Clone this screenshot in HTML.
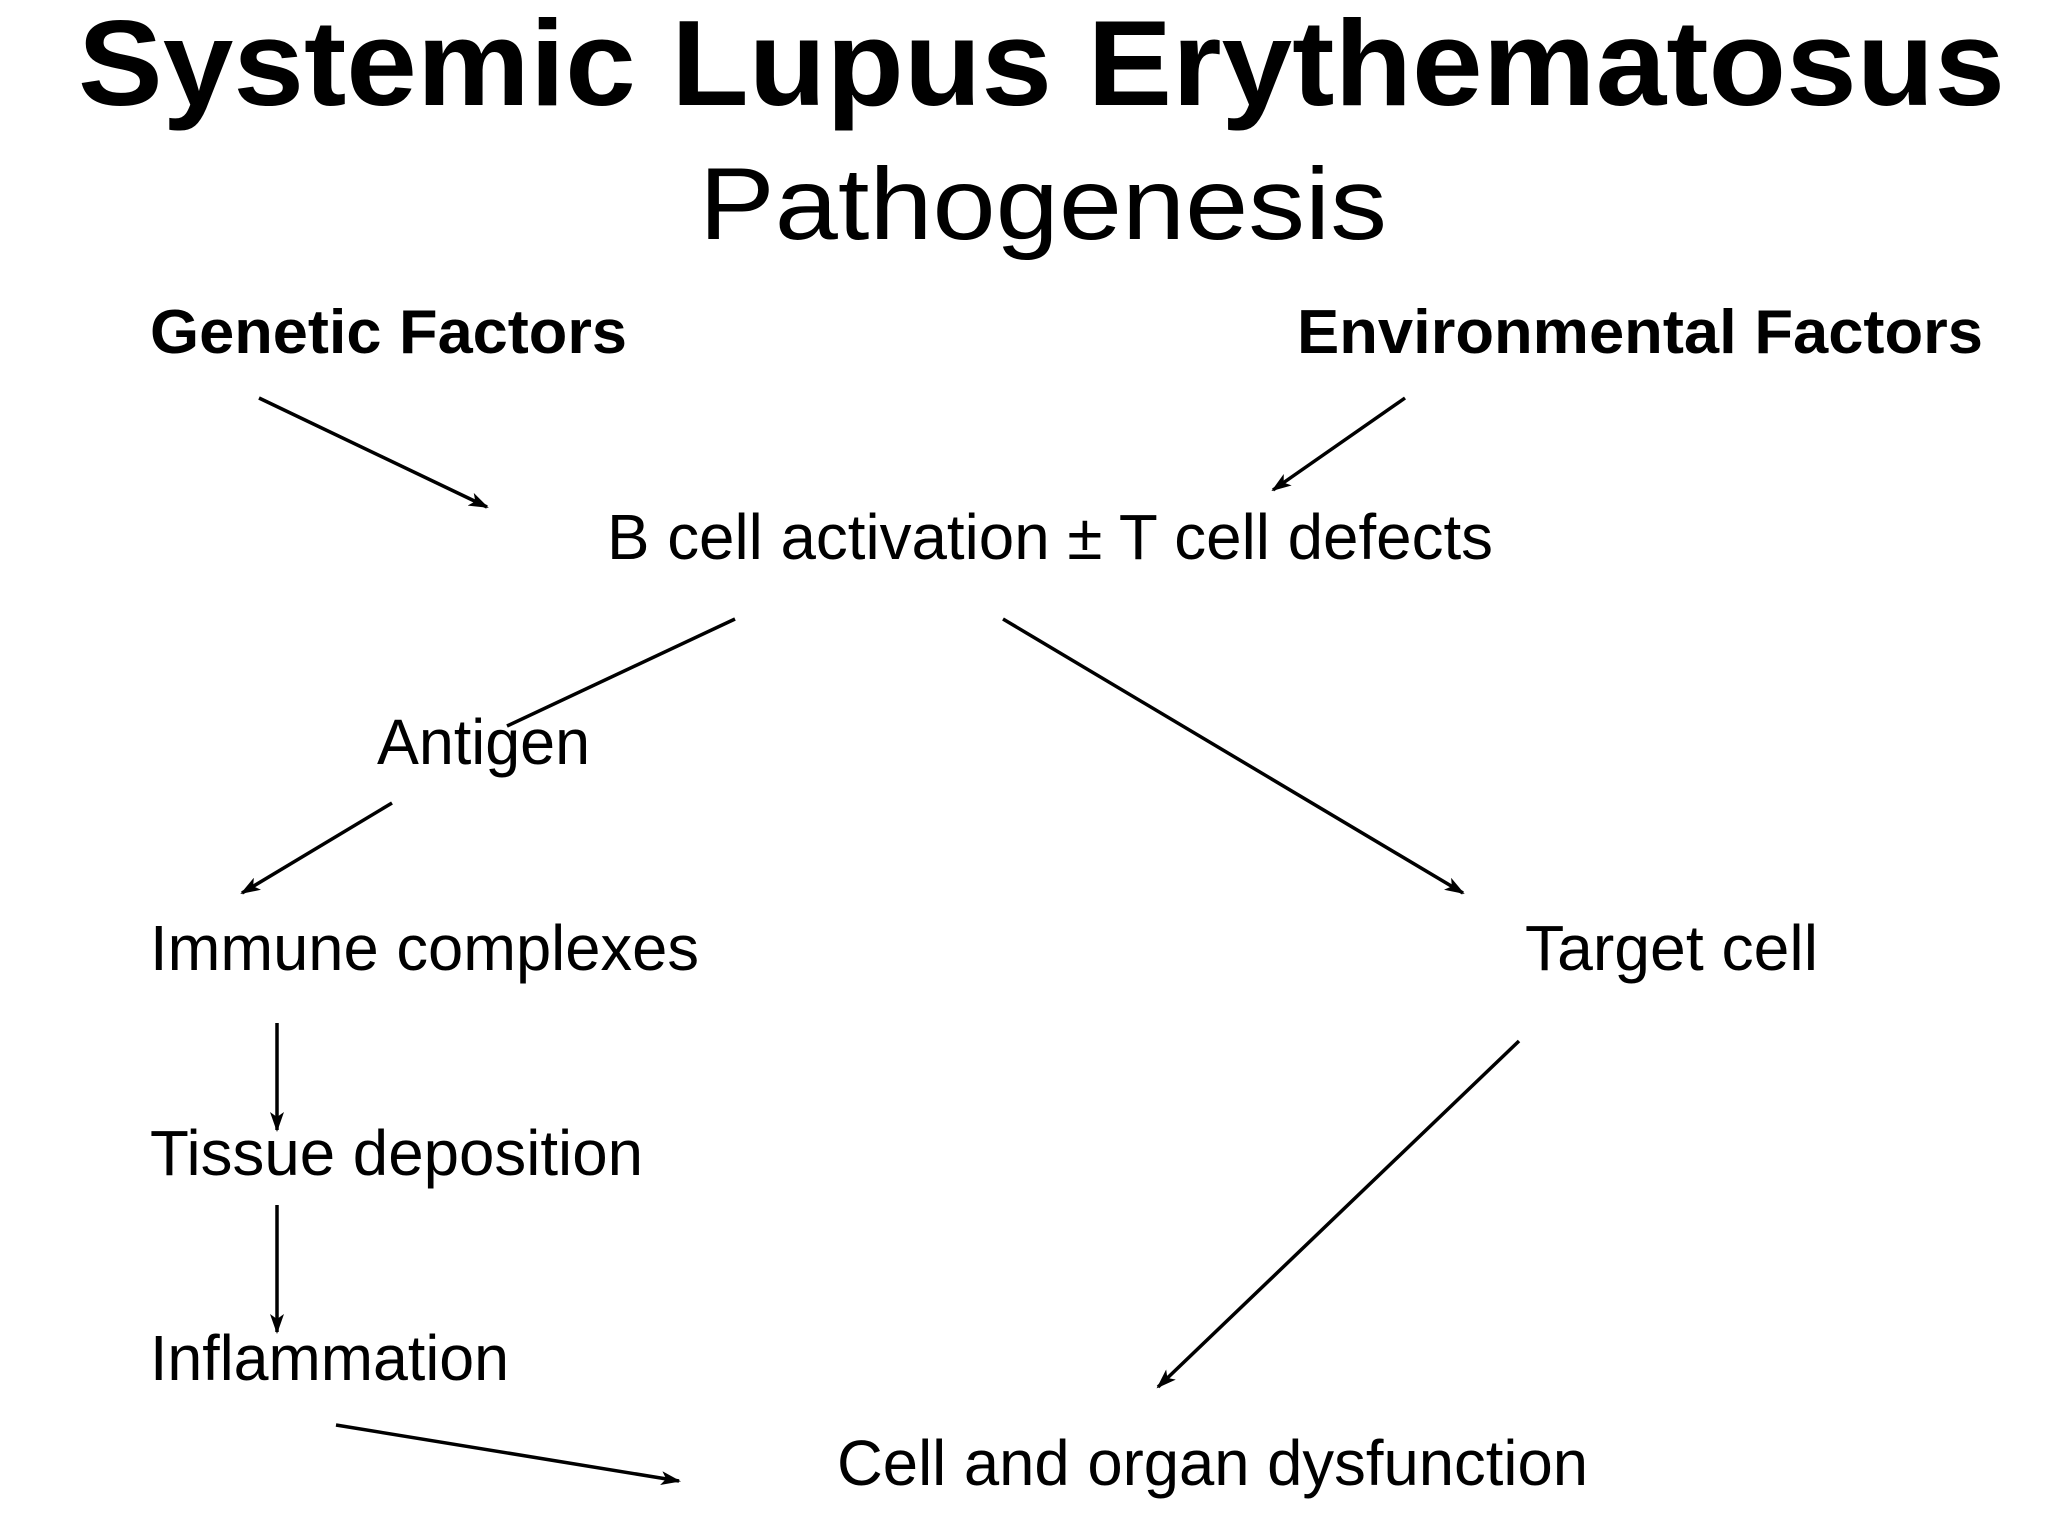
<!DOCTYPE html>
<html><head><meta charset="utf-8"><style>
html,body{margin:0;padding:0;background:#fff;width:2048px;height:1536px;overflow:hidden}
svg{display:block}
text{font-family:"Liberation Sans",Arial,sans-serif;fill:#000}
</style></head><body>
<svg width="2048" height="1536" viewBox="0 0 2048 1536" xmlns="http://www.w3.org/2000/svg">
<defs>
<marker id="a" markerWidth="20" markerHeight="14" refX="18" refY="7" orient="auto" markerUnits="userSpaceOnUse">
<path d="M0,0 L20,7 L0,14 L5,7 Z" fill="#000"/>
</marker>
</defs>
<text x="78" y="105" font-size="122" font-weight="bold" textLength="1927" lengthAdjust="spacingAndGlyphs">Systemic Lupus Erythematosus</text>
<text x="699" y="239" font-size="102" textLength="688" lengthAdjust="spacingAndGlyphs">Pathogenesis</text>
<text x="150" y="353" font-size="62" font-weight="bold" textLength="477" lengthAdjust="spacingAndGlyphs">Genetic Factors</text>
<text x="1297" y="353" font-size="62" font-weight="bold" textLength="686" lengthAdjust="spacingAndGlyphs">Environmental Factors</text>
<text x="607" y="559" font-size="64" textLength="886" lengthAdjust="spacingAndGlyphs">B cell activation ± T cell defects</text>
<text x="377" y="764" font-size="64" textLength="213" lengthAdjust="spacingAndGlyphs">Antigen</text>
<text x="150" y="970" font-size="64" textLength="549" lengthAdjust="spacingAndGlyphs">Immune complexes</text>
<text x="1525" y="970" font-size="64" textLength="293" lengthAdjust="spacingAndGlyphs">Target cell</text>
<text x="150" y="1175" font-size="64" textLength="493" lengthAdjust="spacingAndGlyphs">Tissue deposition</text>
<text x="150" y="1380" font-size="64" textLength="359" lengthAdjust="spacingAndGlyphs">Inflammation</text>
<text x="837" y="1485" font-size="64" textLength="751" lengthAdjust="spacingAndGlyphs">Cell and organ dysfunction</text>
<g stroke="#000" stroke-width="3.5" fill="none">
<line x1="259" y1="398" x2="487" y2="507" marker-end="url(#a)"/>
<line x1="1405" y1="398" x2="1273" y2="490" marker-end="url(#a)"/>
<line x1="735" y1="619" x2="507" y2="726"/>
<line x1="392" y1="803" x2="242" y2="893" marker-end="url(#a)"/>
<line x1="1003" y1="619" x2="1463" y2="893" marker-end="url(#a)"/>
<line x1="277" y1="1023" x2="277" y2="1130" marker-end="url(#a)"/>
<line x1="277" y1="1205" x2="277" y2="1332" marker-end="url(#a)"/>
<line x1="1519" y1="1041" x2="1158" y2="1387" marker-end="url(#a)"/>
<line x1="336" y1="1425" x2="679" y2="1481" marker-end="url(#a)"/>
</g>
</svg>
</body></html>
